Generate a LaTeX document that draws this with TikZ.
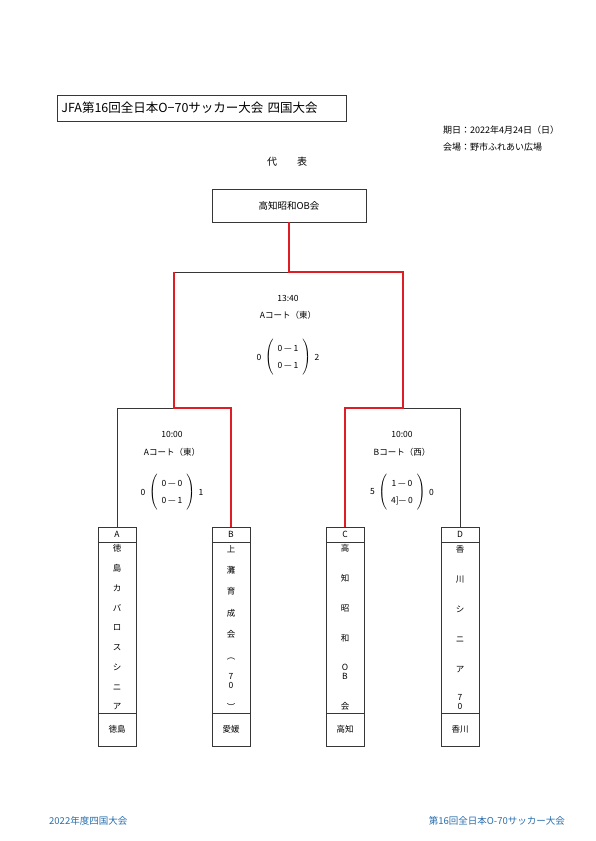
\documentclass[tikz,border=0pt]{standalone}
\usepackage{fontspec}
\setmainfont{Noto Sans CJK JP}
\usepackage{xcolor}
\usetikzlibrary{positioning}
\definecolor{winred}{RGB}{222,30,36}
\definecolor{footblue}{RGB}{40,110,172}
\definecolor{linegray}{RGB}{55,55,55}
\renewcommand{\arraystretch}{1.9}
\newcommand{\tsep}{\par\vfill}
\newcommand{\tatebox}[1]{\parbox[c][165pt][s]{30pt}{\centering #1}}
\newcommand{\pair}[2]{\shortstack{#1\\#2}}
\newcommand{\scorebox}[2]{$\left(\vcenter{\hbox{\hspace{4pt}\begin{tabular}{@{}c@{}}#1\\#2\end{tabular}\hspace{4pt}}}\right)$}

\begin{document}
\begin{tikzpicture}[x=1pt,y=-1pt,
  txt/.style={inner sep=1pt,font=\fontsize{8.5}{9}\selectfont},
  teamhead/.style={draw=linegray,line width=0.7pt,outer sep=0pt,inner sep=0pt,minimum width=38pt,minimum height=15pt,font=\fontsize{8.5}{9}\selectfont},
  teamname/.style={teamhead,minimum height=171pt},
  teampref/.style={teamhead,minimum height=33pt},
  thinline/.style={draw=linegray,line width=0.7pt},
  redline/.style={draw=winred,line width=2.6pt,line join=miter}]
  \fill[white] (0,0) rectangle (595,841);
  \node[draw=linegray,line width=0.7pt,anchor=west,text width=281pt,minimum height=26pt,inner xsep=4pt,align=left,font=\fontsize{12.5}{14}\selectfont] (title) at (57,108) {JFA第16回全日本O−70サッカー大会 四国大会};
  \node[txt,anchor=west,font=\fontsize{9}{10}\selectfont] (date) at (442,130) {期日：2022年4月24日（日）};
  \node[txt,anchor=west,font=\fontsize{9}{10}\selectfont] (venue) at (442,147) {会場：野市ふれあい広場};
  \node[txt,font=\fontsize{10}{11}\selectfont] (daihyo) at (287,162) {代\hspace{2em}表};
  \node[draw=linegray,line width=0.7pt,minimum width=154pt,minimum height=33pt,font=\fontsize{9.5}{10}\selectfont] (champ) at (289,205.5) {高知昭和OB会};

  \node[teamhead] (tA) at (117,534.5) {A};
  \node[teamname,below=0pt of tA] (nA) {\tatebox{徳\tsep 島\tsep カ\tsep バ\tsep ロ\tsep ス\tsep シ\tsep ニ\tsep ア}};
  \node[teampref,below=0pt of nA] (pA) {徳島};
  \node[teamhead] (tB) at (231,534.5) {B};
  \node[teamname,below=0pt of tB] (nB) {\tatebox{上\tsep 灘\tsep 育\tsep 成\tsep 会\tsep ︵\tsep \pair{7}{0}\tsep ︶}};
  \node[teampref,below=0pt of nB] (pB) {愛媛};
  \node[teamhead] (tC) at (345,534.5) {C};
  \node[teamname,below=0pt of tC] (nC) {\tatebox{高\tsep 知\tsep 昭\tsep 和\tsep \pair{O}{B}\tsep 会}};
  \node[teampref,below=0pt of nC] (pC) {高知};
  \node[teamhead] (tD) at (460,534.5) {D};
  \node[teamname,below=0pt of tD] (nD) {\tatebox{香\tsep 川\tsep シ\tsep ニ\tsep ア\tsep \pair{7}{0}}};
  \node[teampref,below=0pt of nD] (pD) {香川};

  \coordinate (fin) at (289,272);
  \coordinate (finL) at (174,272);
  \coordinate (finR) at (403,272);
  \coordinate (semiL) at (174,408);
  \coordinate (semiR) at (403,408);
  \draw[thinline] (finL) -- (fin);
  \draw[thinline] (tA.north) |- (semiL);
  \draw[thinline] (tD.north) |- (semiR);
  \draw[redline] (champ.south) -- (fin) -- (finR) -- (semiR) -| (tC.north);
  \draw[redline] (tB.north) |- (semiL) -- (finL);

  \node[txt] (timeF) at (288,298) {13:40};
  \node[txt] (courtF) at (288,315) {Aコート（東）};
  \node[txt] (scoreF) at (288,357) {\scorebox{0 — 1}{0 — 1}};
  \node[txt,left=1pt of scoreF] (leftF) {0};
  \node[txt,right=1pt of scoreF] (rightF) {2};

  \node[txt] (timeL) at (172,434) {10:00};
  \node[txt] (courtL) at (172,452) {Aコート（東）};
  \node[txt] (scoreL) at (172,492) {\scorebox{0 — 0}{0 — 1}};
  \node[txt,left=1pt of scoreL] (leftL) {0};
  \node[txt,right=1pt of scoreL] (rightL) {1};

  \node[txt] (timeR) at (402,434) {10:00};
  \node[txt] (courtR) at (402,452) {Bコート（西）};
  \node[txt] (scoreR) at (402,492) {\scorebox{1 — 0}{4]— 0}};
  \node[txt,left=1pt of scoreR] (leftR) {5};
  \node[txt,right=1pt of scoreR] (rightR) {0};

  \node[txt,anchor=west,text=footblue,font=\fontsize{9.5}{10}\selectfont] (footL) at (48,821) {2022年度四国大会};
  \node[txt,anchor=east,text=footblue,font=\fontsize{9.5}{10}\selectfont] (footR) at (566,821) {第16回全日本O-70サッカー大会};
\end{tikzpicture}
\end{document}
